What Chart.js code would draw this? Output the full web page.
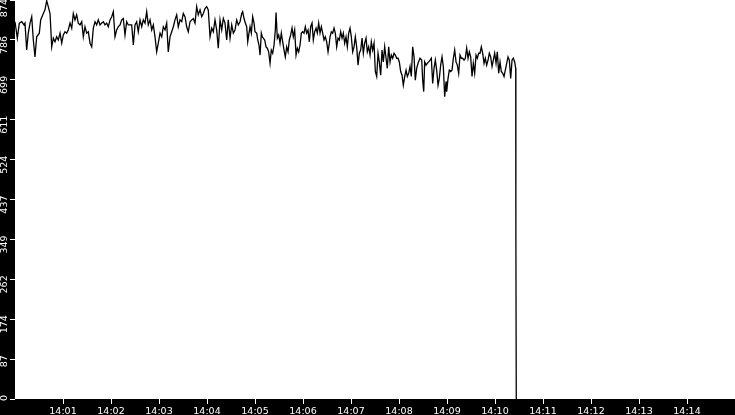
<!DOCTYPE html>
<html><head><meta charset="utf-8">
<script src="https://cdn.jsdelivr.net/npm/chart.js@4/dist/chart.umd.min.js"></script>
<style>
html,body{margin:0;padding:0;background:#000;overflow:hidden;}
#wrap{width:735px;height:415px;position:relative;}
</style></head><body>
<div id="wrap"><canvas id="c"></canvas></div>
<script>
// seconds after 14:00:00
const seconds = [0,2.9,5.4,8.4,11.3,12.5,14.6,16.6,18.8,20.9,22.9,25,27.1,30.4,32.1,35.4,37.5,39.6,41.6,43.8,45.9,47.9,50,52.1,54.1,56.3,58.4,60.4,62.5,64.6,66.6,68.8,70.9,72.9,75,77.1,79.1,81.3,83.4,85.4,87.5,89.6,91.6,93.8,95.9,97.9,100,102.1,104.1,106.3,108.4,110.4,112.5,114.6,116.6,118.8,120.9,122.9,125,127.1,129.1,131.3,133.4,135.4,137.5,139.6,141.6,
145.9,147.9,150,152.1,154.1,156.3,158.4,160.4,162.5,164.6,166.6,168.8,170.9,172.9,175,177.1,179.1,181.3,183.4,185.4,187.5,189.6,191.6,193.8,195.9,197.9,200,202.1,204.1,206.3,208.4,210.4,212.5,214.6,216.6,218.8,220.9,222.9,225,227.1,229.1,231.3,233.4,235.4,237.5,239.6,241.6,243.8,245.9,247.9,250,252.1,254.1,256.3,258.4,260.4,262.5,264.6,266.6,268.8,270.9,272.9,275,277.1,279.1,
281.3,283.4,284.6,286.3,287.9,289.6,290.9,292.5,293.8,295.4,297.1,298.8,300,302.1,303.4,305,306.3,307.9,309.1,310.4,312.1,313.8,315.4,317.1,318.8,320.4,322.1,323.8,325.4,326.3,327.9,329.6,331.3,332.9,334.6,336.3,337.9,339.6,341.3,342.9,344.6,346.3,347.9,349.6,351.3,352.9,354.6,356.3,357.9,359.6,361.3,362.9,364.6,366.3,367.9,369.6,371.3,372.9,374.6,376.3,377.9,379.6,381.3,382.9,384.6,386.3,387.9,389.6,391.3,392.9,
393.8,395.4,397.1,398.8,400.4,402.1,403.8,405.4,407.1,408.8,410.4,412.1,413.8,415.4,417.1,418.8,420.4,422.1,423.8,425.4,427.1,428.8,430.4,432.1,433.8,435.4,437.1,438.8,440.4,442.1,443.8,445.4,447.1,448.8,450.4,452.1,453.8,455.4,457.1,458.8,460.4,462.1,463.8,465.4,467.1,468.8,470.4,472.1,473.8,475.4,477.1,478.8,480.4,482.1,483.8,485.4,487.1,488.8,490.4,492.1,493.8,495.4,497.1,498.8,500.4,502.1,503.8,505.4,
506.3,508.4,509.6,510.9,512.1,513.8,515.4,517.1,518.8,520.4,522.1,523.8,525.4,527.1,528.8,530.4,532.1,533.8,535.4,537.1,538.8,539.6,541.3,542.9,544.6,546.3,547.9,549.6,551.3,552.9,554.6,556.3,557.9,559.6,561.3,562.9,564.6,566.3,567.9,569.6,571.3,572.9,574.6,576.3,577.9,579.6,581.3,582.9,584.6,586.3,587.9,589.6,591.3,592.9,594.6,596.3,597.9,599.6,601.3,602.9,604.6,606.3,607.9,609.6,611.3,612.9,614.6,616.3,617.9,619.6,621.3,622.9,624.6,625.9,626.1,626.6];

const values = [826,790,823,826,819,823,764,801,823,837,786,749,793,801,830,844,852,872,859,844,771,790,782,793,786,801,779,797,804,801,808,823,812,844,830,841,823,819,826,793,815,801,804,779,771,812,826,819,830,819,823,826,819,823,815,830,837,848,793,808,815,819,830,833,797,826,819,
819,775,819,826,804,830,815,830,823,848,819,830,808,819,793,760,779,801,793,815,808,823,760,793,804,815,830,841,815,830,826,844,837,815,804,826,830,833,823,859,841,852,837,844,855,859,852,793,812,804,830,808,768,830,808,833,823,786,830,790,819,801,808,830,819,
826,844,848,833,823,815,782,801,815,801,837,823,804,801,786,775,753,801,793,790,786,771,768,760,735,764,757,775,808,846,790,797,779,801,782,764,749,771,760,786,797,812,793,808,753,768,760,775,801,804,801,815,801,808,782,815,823,786,804,812,801,823,801,815,801,786,793,782,760,779,
793,804,801,812,801,771,790,786,804,790,801,779,793,771,801,812,793,760,771,793,771,731,757,764,790,757,779,790,760,771,753,782,764,779,717,706,757,738,709,764,738,771,746,724,771,738,753,746,757,753,746,746,738,717,709,687,706,720,706,713,728,706,771,749,698,724,735,742,
746,742,698,673,738,731,735,738,742,746,691,724,742,720,687,702,731,749,728,662,695,673,702,720,717,720,746,764,738,731,713,753,746,746,742,746,768,746,760,749,706,735,713,753,746,757,757,771,757,735,746,731,742,757,749,728,742,757,735,760,713,738,717,713,706,720,735,749,742,702,742,746,738,724,355,0];

const yTickLabels = ['0','87','174','262','349','437','524','611','699','786','874'];
const yAxisMax = 873.55;
const xTickSeconds = [60,120,180,240,300,360,420,480,540,600,660,720,780,840];
const xTickLabels = ['14:01','14:02','14:03','14:04','14:05','14:06','14:07','14:08','14:09','14:10','14:11','14:12','14:13','14:14'];
const xAxisMax = 900;

const frame = {
  id: 'frame',
  beforeDraw(chart) {
    const {ctx, chartArea: a} = chart;
    ctx.save();
    ctx.fillStyle = '#000';
    ctx.fillRect(0, 0, chart.width, chart.height);
    ctx.fillStyle = '#fff';
    ctx.fillRect(a.left, a.top, a.right - a.left, a.bottom - a.top);
    ctx.restore();
  }
};

const font = {family: 'DejaVu Sans', size: 9.5};

new Chart(document.getElementById('c'), {
  type: 'line',
  data: {
    datasets: [{
      data: seconds.map((s, i) => ({x: s, y: values[i]})),
      borderColor: '#000',
      borderWidth: 1.3,
      pointRadius: 0,
      tension: 0,
      fill: false
    }]
  },
  options: {
    responsive: true,
    maintainAspectRatio: false,
    animation: false,
    layout: {padding: 0},
    plugins: {legend: {display: false}, tooltip: {enabled: false}},
    scales: {
      x: {
        type: 'linear', position: 'bottom', min: 0, max: xAxisMax,
        afterBuildTicks: s => { s.ticks = xTickSeconds.map(v => ({value: v})); },
        afterFit: s => { s.height = 16; s.paddingLeft = 0; s.paddingRight = 0; },
        grid: {drawOnChartArea: false, drawTicks: true, tickLength: 5, tickColor: '#fff', color: '#fff'},
        border: {display: false},
        ticks: {color: '#fff', font, padding: 2, maxRotation: 0, minRotation: 0, autoSkip: false,
                callback: (v, i) => xTickLabels[i]}
      },
      y: {
        type: 'linear', position: 'left', min: 0, max: yAxisMax,
        afterBuildTicks: s => { s.ticks = yTickLabels.map((l, i) => ({value: i * yAxisMax / 10})); },
        afterFit: s => { s.width = 15; s.paddingTop = 0; s.paddingBottom = 0; },
        grid: {drawOnChartArea: false, drawTicks: true, tickLength: 5, tickColor: '#fff', color: '#fff'},
        border: {display: false},
        ticks: {color: '#fff', font, padding: 5, minRotation: 90, maxRotation: 90, autoSkip: false, labelOffset: -4,
                callback: (v, i) => i === yTickLabels.length - 1 ? yTickLabels[i] + '\u00a0' : yTickLabels[i]}
      }
    }
  },
  plugins: [frame]
});
</script>
</body></html>
